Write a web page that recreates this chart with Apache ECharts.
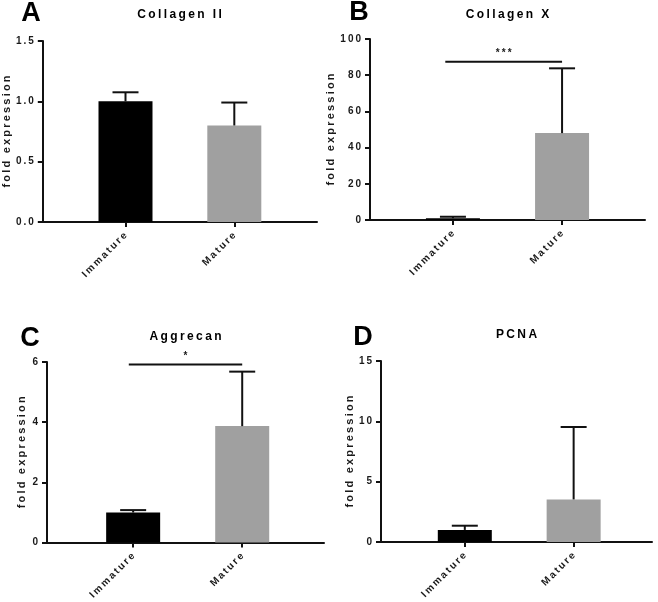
<!DOCTYPE html>
<html>
<head>
<meta charset="utf-8">
<script src="https://cdn.jsdelivr.net/npm/echarts@6/dist/echarts.min.js"></script>
<style>
  html, body { margin: 0; padding: 0; background: #fff; }
  #chart { width: 658px; height: 602px; }
</style>
</head>
<body>
<div id="chart"></div>
<script>
// ---- data ----
const categories = ['Immature', 'Mature'];
const panelLetters = ['A', 'B', 'C', 'D'];
const panelTitles = ['Collagen II', 'Collagen X', 'Aggrecan', 'PCNA'];
const collagenIIMean = [1.0, 0.80];
const collagenIIErr = [0.075, 0.19];
const collagenXMean = [1.0, 48];
const collagenXErr = [0.8, 35.8];
const aggrecanMean = [1.0, 3.87];
const aggrecanErr = [0.08, 1.81];
const pcnaMean = [1.0, 3.53];
const pcnaErr = [0.35, 6.0];
const yMaxs = [1.5, 100, 6, 15];
const ySteps = [0.5, 20, 2, 5];
const yDecimals = [1, 0, 0, 0];
// significance bars: [fromX, toX, y]
const sigCollagenX = [[-0.07, 1, 87.5]];
const sigAggrecan = [[-0.04, 1, 5.92]];
const sigLabelsCollagenX = ['***'];
const sigLabelsAggrecan = ['*'];

const means = [collagenIIMean, collagenXMean, aggrecanMean, pcnaMean];
const errs = [collagenIIErr, collagenXErr, aggrecanErr, pcnaErr];
const sigs = [null, sigCollagenX, sigAggrecan, null];
const sigLabels = [null, sigLabelsCollagenX, sigLabelsAggrecan, null];

// ---- layout ----
const grids = [
  { left: 42, top: 41, width: 275, height: 181 },
  { left: 370, top: 39, width: 275, height: 181 },
  { left: 47, top: 362, width: 277, height: 181 },
  { left: 381, top: 361, width: 271, height: 181 }
];
const xRanges = [[-0.76, 1.76], [-0.76, 1.76], [-0.79, 1.75], [-0.77, 1.72]];
const nameGaps = [30, 33, 20, 26];
const letterPos = [[31, 14], [359, 13], [30, 339], [363, 338]];
const titleY = [15, 15, 337, 335];
const barColors = ['#000000', '#a0a0a0'];
const FONT = '"Liberation Sans", Arial, Helvetica, sans-serif';
const TXT = '#1a1a1a';

function spaced(s) { return String(s).split('').join('\u2009'); }

const chart = echarts.init(document.getElementById('chart'), null, { renderer: 'canvas' });

const xAxes = [], yAxes = [], series = [], graphics = [];

grids.forEach((g, i) => {
  xAxes.push({
    type: 'value', gridIndex: i, min: xRanges[i][0], max: xRanges[i][1],
    splitLine: { show: false },
    axisLine: { show: true, onZero: false, lineStyle: { color: '#111', width: 2 } },
    axisTick: { show: true, customValues: [0, 1], length: 5, lineStyle: { color: '#111', width: 2 } },
    axisLabel: {
      customValues: [0, 1], rotate: 45, margin: 12,
      formatter: v => spaced(categories[Math.round(v)]),
      fontFamily: FONT, fontWeight: 'bold', fontSize: 10, color: TXT
    }
  });
  yAxes.push({
    type: 'value', gridIndex: i, min: 0, max: yMaxs[i], interval: ySteps[i],
    name: spaced('fold expression'), nameLocation: 'middle', nameGap: nameGaps[i],
    nameTextStyle: { fontFamily: FONT, fontWeight: 'bold', fontSize: 11, color: TXT },
    splitLine: { show: false },
    axisLine: { show: true, onZero: false, lineStyle: { color: '#111', width: 2 } },
    axisTick: { show: true, length: 5, lineStyle: { color: '#111', width: 2 } },
    axisLabel: {
      margin: 9, fontFamily: FONT, fontWeight: 'bold', fontSize: 10, color: TXT,
      formatter: v => spaced(v.toFixed(yDecimals[i]))
    }
  });
  series.push({
    type: 'bar', xAxisIndex: i, yAxisIndex: i, barWidth: 54,
    data: means[i].map((m, k) => [k, m]),
    itemStyle: { color: p => barColors[p.dataIndex] },
    z: 2
  });
  series.push({
    type: 'custom', xAxisIndex: i, yAxisIndex: i, z: 3,
    encode: { x: 0, y: 1 },
    data: means[i].map((m, k) => [k, m, errs[i][k]]),
    renderItem: (params, api) => {
      const x = api.value(0), m = api.value(1), e = api.value(2);
      const p0 = api.coord([x, m]);
      const p1 = api.coord([x, m + e]);
      return {
        type: 'group', children: [
          { type: 'line', shape: { x1: p0[0], y1: p0[1], x2: p1[0], y2: p1[1] }, style: { stroke: '#111', lineWidth: 2 } },
          { type: 'line', shape: { x1: p1[0] - 13, y1: p1[1], x2: p1[0] + 13, y2: p1[1] }, style: { stroke: '#111', lineWidth: 2 } }
        ]
      };
    }
  });
  if (sigs[i]) {
    series.push({
      type: 'custom', xAxisIndex: i, yAxisIndex: i, z: 3,
      encode: { x: [0, 1], y: 2 },
      data: sigs[i],
      renderItem: (params, api) => {
        const a = api.coord([api.value(0), api.value(2)]);
        const b = api.coord([api.value(1), api.value(2)]);
        return {
          type: 'group', children: [
            { type: 'line', shape: { x1: a[0], y1: a[1], x2: b[0], y2: b[1] }, style: { stroke: '#111', lineWidth: 2 } },
            { type: 'text', x: (a[0] + b[0]) / 2, y: a[1] - 3,
              style: { text: spaced(sigLabels[i][params.dataIndex]), align: 'center', verticalAlign: 'bottom',
                       font: 'bold 10px ' + FONT, fill: TXT } }
          ]
        };
      }
    });
  }
  graphics.push({
    type: 'text', x: letterPos[i][0], y: letterPos[i][1],
    style: { text: panelLetters[i], font: 'bold 27px ' + FONT, fill: '#000', align: 'center', verticalAlign: 'middle' }
  });
  graphics.push({
    type: 'text', x: g.left + g.width / 2, y: titleY[i],
    style: { text: spaced(panelTitles[i]), font: 'bold 12px ' + FONT, fill: '#000', align: 'center', verticalAlign: 'middle' }
  });
});

chart.setOption({
  animation: false,
  backgroundColor: '#fff',
  grid: grids.map(g => Object.assign({ containLabel: false }, g)),
  xAxis: xAxes,
  yAxis: yAxes,
  series: series,
  graphic: graphics
});
</script>
</body>
</html>
